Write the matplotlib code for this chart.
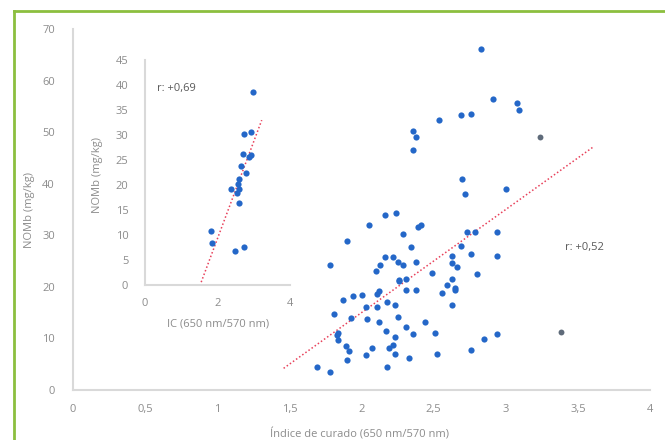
import numpy as np
import matplotlib
matplotlib.use("Agg")
import matplotlib.pyplot as plt
from matplotlib.lines import Line2D

# main scatter: Indice de curado vs NOMb
ic_main = [2.83, 2.91, 3.08, 3.09, 2.69, 2.76, 2.54, 2.36, 2.38, 2.36, 2.70,
           2.16, 2.24, 2.05, 1.90, 2.29, 2.34, 1.78, 2.16, 2.22, 2.25, 2.29,
           2.13, 2.10, 2.38, 2.39, 2.26, 2.31, 2.72, 3.00, 2.41, 2.73, 2.79,
           2.94, 2.69, 2.76, 2.94, 2.63, 2.63, 2.66, 2.49, 2.80, 2.63, 2.59,
           2.65, 1.87, 1.94, 2.00, 2.11, 2.18, 2.23, 2.03, 2.11, 1.81, 1.93,
           2.04, 2.12, 2.25, 2.17, 2.31, 2.36, 1.84, 1.84, 1.89, 1.91, 2.23,
           2.19, 2.22, 2.07, 2.03, 2.23, 2.33, 1.90, 2.18, 1.69, 1.78, 2.31,
           2.38, 2.26, 2.56, 2.65, 2.63, 2.44, 2.51, 2.85, 2.94, 2.76, 2.52,
           2.12, 1.83]
nomb_main = [66.2, 56.5, 55.7, 54.3, 53.4, 53.6, 52.4, 50.3, 49.1, 46.6, 41.0,
             34.0, 34.4, 31.9, 28.8, 30.2, 27.7, 24.2, 25.7, 25.7, 24.8, 24.2,
             24.2, 23.0, 24.8, 31.7, 21.3, 21.5, 38.1, 38.9, 31.9, 30.6, 30.6,
             30.6, 27.9, 26.3, 25.9, 25.9, 24.6, 23.8, 22.6, 22.4, 21.5, 20.3,
             19.7, 17.4, 18.2, 18.4, 18.6, 17.0, 16.4, 16.1, 16.1, 14.7, 13.9,
             13.7, 13.2, 14.1, 11.4, 12.2, 10.8, 11.0, 9.7, 8.5, 7.5, 10.3,
             8.1, 8.7, 8.1, 6.8, 7.0, 6.2, 5.8, 4.4, 4.4, 3.5, 19.3,
             19.3, 21.1, 18.8, 19.3, 16.4, 13.2, 11.0, 9.9, 10.8, 7.7, 7.0,
             19.1, 10.6]
# greyish points
ic_grey = [3.24, 3.38]
nomb_grey = [49.1, 11.2]

# inset: IC vs NOMb
ic_inset = [2.97, 2.72, 2.92, 2.69, 2.92, 2.86, 2.64, 2.78, 2.58, 2.56, 2.36,
            2.58, 2.53, 2.58, 1.81, 1.86, 2.47, 2.72]
nomb_inset = [38.6, 30.2, 30.6, 26.2, 26.0, 25.6, 23.8, 22.4, 21.2, 20.2, 19.2,
              19.2, 18.4, 16.4, 10.8, 8.4, 6.8, 7.6]

# trendlines (slope, intercept, x range)
trend_main = (20.0, -25.0, 1.46, 3.61)
trend_inset = (19.4, -29.5, 1.55, 3.22)

xticks_main = [0, 0.5, 1, 1.5, 2, 2.5, 3, 3.5, 4]
xticklabels_main = ["0", "0,5", "1", "1,5", "2", "2,5", "3", "3,5", "4"]
yticks_main = [0, 10, 20, 30, 40, 50, 60, 70]
xticks_inset = [0, 2, 4]
yticks_inset = [0, 5, 10, 15, 20, 25, 30, 35, 40, 45]

W, H = 665, 440
FONT = "Open Sans"
TXT = "#8c8c8c"
BLUE = "#2467c8"
RED = "#e8405a"


def style(ax):
    for s in ["top", "right"]:
        ax.spines[s].set_visible(False)
    for s in ["left", "bottom"]:
        ax.spines[s].set_color("#d9d9d9")
        ax.spines[s].set_linewidth(1.5)
    ax.tick_params(length=0, labelsize=8, labelcolor=TXT)
    for lab in ax.get_xticklabels() + ax.get_yticklabels():
        lab.set_fontfamily(FONT)


def fig_box(x0, y0, x1, y1):
    # pixel box -> figure fraction [left, bottom, width, height]
    return [x0 / W, 1 - y1 / H, (x1 - x0) / W, (y1 - y0) / H]


fig = plt.figure(figsize=(6.65, 4.4), dpi=100)

# green frame (only top and left are visible)
fig.add_artist(Line2D([14 / W, 14 / W], [0, 1 - 11 / H], color="#8cbf3f", lw=2))
fig.add_artist(Line2D([14 / W, 1], [1 - 11 / H, 1 - 11 / H], color="#8cbf3f", lw=2))

ax = fig.add_axes(fig_box(73, 29, 650, 390))
ax.set_xlim(0, 4)
ax.set_ylim(0, 70)
ax.set_xticks(xticks_main)
ax.set_xticklabels(xticklabels_main)
ax.set_yticks(yticks_main)
ax.tick_params(axis="x", pad=10)
ax.tick_params(axis="y", pad=13)
style(ax)

ax.scatter(ic_main, nomb_main, s=20, color=BLUE, zorder=3, linewidths=0)
ax.scatter(ic_grey, nomb_grey, s=18, color="#5f6b7a", zorder=3, linewidths=0)
m, b, x0, x1 = trend_main
xs = np.array([x0, x1])
ax.plot(xs, m * xs + b, color=RED, lw=1.1, ls=(0, (1, 1.5)), zorder=2)
fig.text(565 / W, 1 - 247 / H, "r: +0,52", fontsize=8, color="#595959",
         family=FONT, va="center")
ax.set_xlabel("Índice de curado (650 nm/570 nm)", fontsize=8, color=TXT,
              family=FONT)
ax.xaxis.set_label_coords(0.497, -0.108)
ax.set_ylabel("NOMb (mg/kg)", fontsize=8, color=TXT, family=FONT)
ax.yaxis.set_label_coords(-0.066, 0.5)

# inset
axi = fig.add_axes(fig_box(145, 60, 290, 285))
axi.set_xlim(0, 4)
axi.set_ylim(0, 45)
axi.set_xticks(xticks_inset)
axi.set_yticks(yticks_inset)
axi.tick_params(axis="x", pad=9)
axi.tick_params(axis="y", pad=12)
axi.patch.set_alpha(0)
style(axi)

axi.scatter(ic_inset, nomb_inset, s=20, color=BLUE, zorder=3, linewidths=0)
m, b, x0, x1 = trend_inset
xs = np.array([x0, x1])
axi.plot(xs, m * xs + b, color=RED, lw=1.1, ls=(0, (1, 1.5)), zorder=2)
fig.text(157 / W, 1 - 88 / H, "r: +0,69", fontsize=8, color="#595959",
         family=FONT, va="center")
axi.set_xlabel("IC (650 nm/570 nm)", fontsize=8, color=TXT, family=FONT)
axi.xaxis.set_label_coords(0.503, -0.151)
axi.set_ylabel("NOMb (mg/kg)", fontsize=8, color=TXT, family=FONT)
axi.yaxis.set_label_coords(-0.29, 0.489)

fig.savefig("out.png", dpi=100)
plt.close()
